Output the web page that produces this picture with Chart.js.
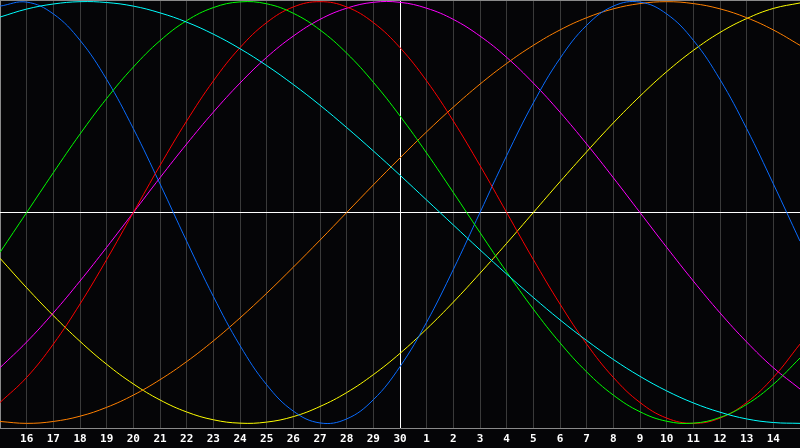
<!DOCTYPE html>
<html>
<head>
<meta charset="utf-8">
<script src="https://cdn.jsdelivr.net/npm/chart.js@4"></script>
<style>
  html, body { margin: 0; padding: 0; background: #050507; }
  canvas { display: block; }
</style>
</head>
<body>
<canvas id="c" width="800" height="448"></canvas>
<script>
// Day labels (index 0 and 30 sit on the chart edges and are not printed)
const dayLabels = ['15','16','17','18','19','20','21','22','23','24','25','26','27','28','29','30',
                   '1','2','3','4','5','6','7','8','9','10','11','12','13','14','15'];

// Series values (-1 .. 1)
const physical = [0.979,0.998,0.942,0.817,0.631,0.398,0.136,-0.136,-0.398,-0.631,-0.817,-0.942,-0.998,-0.979,-0.888,-0.731,-0.520,-0.270,0.000,0.270,0.520,0.731,0.888,0.979,0.998,0.942,0.817,0.631,0.398,0.136,-0.136];
const emotional = [-0.901,-0.782,-0.624,-0.434,-0.223,0.000,0.223,0.434,0.624,0.782,0.901,0.975,1.000,0.975,0.901,0.782,0.624,0.434,0.223,0.000,-0.223,-0.434,-0.624,-0.782,-0.901,-0.975,-1.000,-0.975,-0.901,-0.782,-0.624];
const intellectual = [-0.189,0.000,0.189,0.372,0.541,0.690,0.815,0.910,0.972,0.999,0.990,0.945,0.866,0.756,0.618,0.458,0.282,0.095,-0.095,-0.282,-0.458,-0.618,-0.756,-0.866,-0.945,-0.990,-0.999,-0.972,-0.910,-0.815,-0.690];
const intuitive = [-0.736,-0.614,-0.476,-0.325,-0.165,0.000,0.165,0.325,0.476,0.614,0.736,0.837,0.916,0.969,0.997,0.997,0.969,0.916,0.837,0.736,0.614,0.476,0.325,0.165,0.000,-0.165,-0.325,-0.476,-0.614,-0.736,-0.837];
const aesthetic = [-0.217,-0.357,-0.489,-0.611,-0.720,-0.813,-0.889,-0.946,-0.983,-0.999,-0.994,-0.968,-0.920,-0.854,-0.769,-0.668,-0.552,-0.425,-0.288,-0.146,0.000,0.146,0.288,0.425,0.552,0.668,0.769,0.854,0.920,0.968,0.994];
const awareness = [-0.991,-1.000,-0.991,-0.966,-0.924,-0.866,-0.793,-0.707,-0.609,-0.500,-0.383,-0.259,-0.131,0.000,0.131,0.259,0.383,0.500,0.609,0.707,0.793,0.866,0.924,0.966,0.991,1.000,0.991,0.966,0.924,0.866,0.793];
const spiritual = [0.927,0.965,0.989,1.000,0.996,0.979,0.947,0.903,0.846,0.777,0.697,0.607,0.509,0.403,0.292,0.177,0.059,-0.059,-0.177,-0.292,-0.403,-0.509,-0.607,-0.697,-0.777,-0.846,-0.903,-0.947,-0.979,-0.996,-1.000];

const TODAY_INDEX = 15;
const Y_MIN = -1.022, Y_MAX = 1.008;

function ds(data, color) {
  return { data, borderColor: color, borderWidth: 1, pointRadius: 0, tension: 0.4, fill: false };
}

new Chart(document.getElementById('c'), {
  type: 'line',
  data: {
    labels: dayLabels,
    datasets: [
      ds(spiritual, '#00ffff'),
      ds(intellectual, '#00ff00'),
      ds(emotional, '#ff0000'),
      ds(physical, '#0a6cff'),
      ds(intuitive, '#ff00ff'),
      ds(awareness, '#ff8000'),
      ds(aesthetic, '#ffff00')
    ]
  },
  options: {
    responsive: false,
    animation: false,
    devicePixelRatio: 1,
    layout: { padding: 0, autoPadding: false },
    plugins: { legend: { display: false }, tooltip: { enabled: false } },
    scales: {
      x: {
        type: 'category',
        offset: false,
        grid: {
          drawTicks: false,
          lineWidth: 1,
          color: ctx => ctx.index === TODAY_INDEX ? '#ffffff' : (ctx.index === 0 ? '#8a8a8a' : '#3a3a3a')
        },
        border: { display: true, color: '#8a8a8a', width: 1 },
        ticks: {
          color: '#ffffff',
          font: { family: 'DejaVu Sans Mono', size: 11, weight: 'bold' },
          padding: 5,
          maxRotation: 0,
          autoSkip: false,
          callback: (v, idx) => (idx === 0 || idx === dayLabels.length - 1) ? '' : dayLabels[idx]
        },
        afterFit: s => { s.height = 20; s.paddingLeft = 0; s.paddingRight = 0; }
      },
      y: {
        min: Y_MIN,
        max: Y_MAX,
        ticks: { display: false },
        border: { display: false },
        grid: {
          drawTicks: false,
          lineWidth: 1,
          color: ctx => ctx.tick && ctx.tick.value === 0 ? '#ffffff' : '#8a8a8a'
        },
        afterBuildTicks: s => { s.ticks = [{ value: 0 }, { value: Y_MAX }]; },
        afterFit: s => { s.width = 0; s.paddingTop = 0; s.paddingBottom = 0; }
      }
    }
  }
});
</script>
</body>
</html>
